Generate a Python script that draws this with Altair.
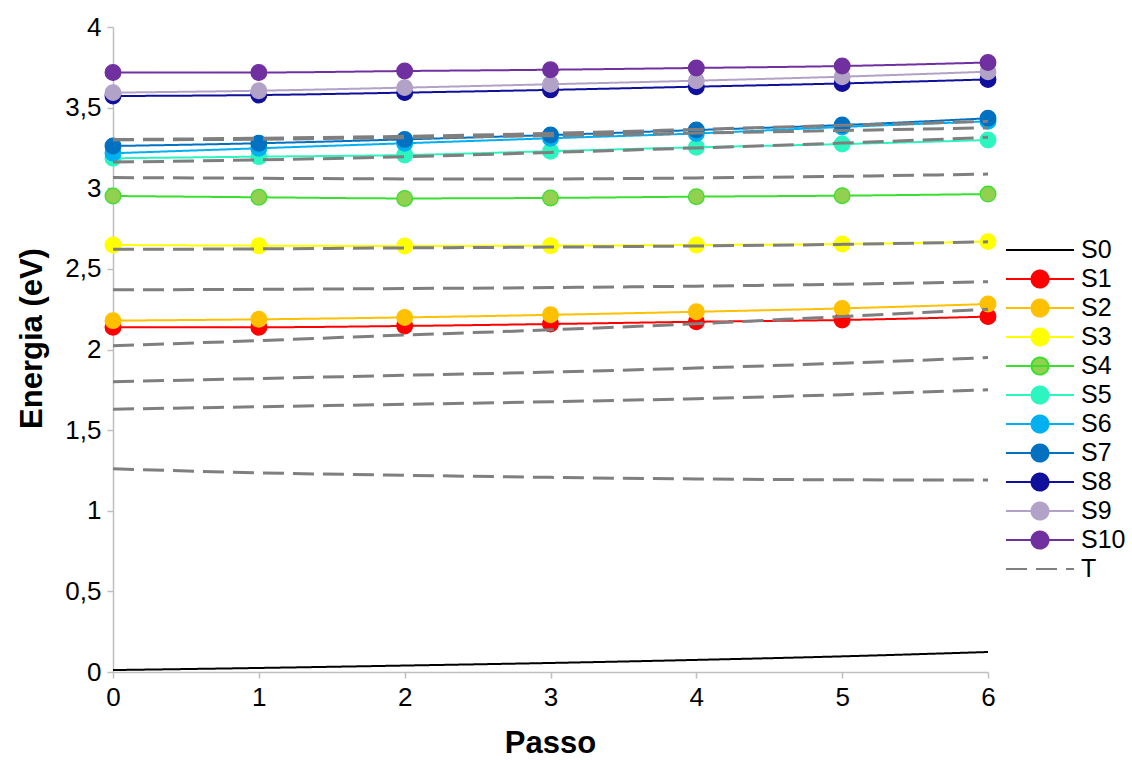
import altair as alt
import pandas as pd

# ---------------- data ----------------
steps = [0, 1, 2, 3, 4, 5, 6]
series_names = ["S0", "S1", "S2", "S3", "S4", "S5", "S6", "S7", "S8", "S9", "S10"]

S0 = [0.012, 0.025, 0.040, 0.056, 0.075, 0.097, 0.124]
S1 = [2.138, 2.138, 2.146, 2.158, 2.172, 2.183, 2.204]
S2 = [2.179, 2.187, 2.199, 2.215, 2.234, 2.255, 2.282]
S3 = [2.648, 2.644, 2.642, 2.644, 2.648, 2.654, 2.669]
S4 = [2.952, 2.944, 2.937, 2.940, 2.948, 2.954, 2.964]
S5 = [3.186, 3.196, 3.206, 3.230, 3.254, 3.274, 3.299]
S6 = [3.217, 3.248, 3.279, 3.310, 3.340, 3.380, 3.415]
S7 = [3.262, 3.279, 3.303, 3.330, 3.361, 3.392, 3.434]
S8 = [3.572, 3.578, 3.593, 3.610, 3.630, 3.650, 3.675]
S9 = [3.593, 3.605, 3.624, 3.645, 3.667, 3.692, 3.723]
S10 = [3.718, 3.718, 3.727, 3.735, 3.746, 3.758, 3.780]
singlets = [S0, S1, S2, S3, S4, S5, S6, S7, S8, S9, S10]

T1 = [1.260, 1.235, 1.220, 1.207, 1.197, 1.192, 1.190]
T2 = [1.630, 1.645, 1.660, 1.676, 1.695, 1.720, 1.750]
T3 = [1.800, 1.820, 1.840, 1.860, 1.885, 1.915, 1.950]
T4 = [2.024, 2.055, 2.090, 2.122, 2.160, 2.205, 2.250]
T5 = [2.370, 2.373, 2.378, 2.384, 2.393, 2.405, 2.420]
T6 = [2.621, 2.624, 2.630, 2.635, 2.642, 2.652, 2.668]
T7 = [3.066, 3.062, 3.058, 3.058, 3.064, 3.074, 3.088]
T8 = [3.162, 3.176, 3.195, 3.222, 3.250, 3.280, 3.316]
T9 = [3.300, 3.304, 3.314, 3.326, 3.342, 3.358, 3.375]
T10 = [3.302, 3.310, 3.322, 3.340, 3.365, 3.390, 3.415]
triplets = [T1, T2, T3, T4, T5, T6, T7, T8, T9, T10]

y_ticks = [0, 0.5, 1, 1.5, 2, 2.5, 3, 3.5, 4]

# ---------------- styles ----------------
legend_order = series_names + ["T"]
line_colors = ["#000000", "#FF0000", "#FFC000", "#FFFF00", "#3ADF2E", "#2DF5C0",
               "#00B0F0", "#0070C0", "#10109C", "#B3A2C7", "#7030A0", "#7F7F7F"]
marker_fills = ["transparent", "#FF0000", "#FFC000", "#FFFF00", "#92D050", "#2DF5C0",
                "#00B0F0", "#0070C0", "#10109C", "#B3A2C7", "#7030A0", "transparent"]
LINE = "M-1,0H1"
LINE_DOT = "M-1,0H1M0.25,0A0.25,0.25,0,1,1,-0.25,0A0.25,0.25,0,1,1,0.25,0Z"
shapes = [LINE] + [LINE_DOT] * 10 + [LINE]
dashes = [[1, 0]] * 11 + [[21, 9]]

# ---------------- tables ----------------
rows = []
for name, vals in zip(series_names, singlets):
    for x, v in zip(steps, vals):
        rows.append({"passo": x, "energia": v, "serie": name, "estado": name})
df_s = pd.DataFrame(rows)

rows = []
for i, vals in enumerate(triplets):
    for x, v in zip(steps, vals):
        rows.append({"passo": x, "energia": v, "serie": "T", "estado": f"T{i+1}"})
df_t = pd.DataFrame(rows)

df_pts = df_s[df_s["serie"] != "S0"].reset_index(drop=True)
df_leg = pd.DataFrame({"serie": legend_order})

# ---------------- scales / guides ----------------
stroke_scale = alt.Scale(domain=legend_order, range=line_colors)
fill_scale = alt.Scale(domain=legend_order, range=marker_fills)
shape_scale = alt.Scale(domain=legend_order, range=shapes)
dash_scale = alt.Scale(domain=legend_order, range=dashes)

FONT = "Liberation Sans"
leg = alt.Legend(title=None, orient="none", legendX=892, legendY=209,
                 clipHeight=28.1, rowPadding=0, padding=0,
                 labelFont=FONT, labelFontSize=25, labelColor="black", labelOffset=6,
                 symbolSize=4624, symbolStrokeWidth=2, symbolOpacity=1)

axis_common = dict(grid=False, domainColor="#BFBFBF", domainWidth=1.5,
                   tickColor="#BFBFBF", tickWidth=1.5, tickSize=6, labelPadding=6,
                   labelFont=FONT, labelFontSize=26, labelColor="black",
                   labelFlush=False, labelOverlap=False,
                   titleFont=FONT, titleFontSize=31, titleFontWeight="bold",
                   titleColor="black")

x_axis = alt.Axis(values=steps, format="d", titleX=437, titleY=71,
                  titleBaseline="middle", titleAlign="center", **axis_common)
y_axis = alt.Axis(values=y_ticks, labelExpr="replace(toString(datum.value), '.', ',')",
                  titleX=-81, titleY=311, titleAngle=270, titleAlign="center",
                  titleBaseline="middle", **axis_common)

X = alt.X("passo:Q", scale=alt.Scale(domain=[0, 6], nice=False), axis=x_axis, title="Passo")
Y = alt.Y("energia:Q", scale=alt.Scale(domain=[0, 4], nice=False), axis=y_axis, title="Energia (eV)")


def line_layer(df, width):
    return alt.Chart(df).mark_line(interpolate="monotone", strokeWidth=width).encode(
        x=X, y=Y,
        stroke=alt.Stroke("serie:N", scale=stroke_scale, legend=leg),
        strokeDash=alt.StrokeDash("serie:N", scale=dash_scale, legend=leg),
        detail="estado:N",
    )


s_lines = line_layer(df_s, 2)
t_lines = line_layer(df_t, 3)

points = alt.Chart(df_pts).mark_point(filled=True, size=245, strokeWidth=1.3, opacity=1).encode(
    x=X, y=Y,
    fill=alt.Fill("serie:N", scale=fill_scale, legend=leg),
    stroke=alt.Stroke("serie:N", scale=stroke_scale, legend=leg),
)

helper = alt.Chart(df_leg).mark_point(opacity=0, size=1).encode(
    shape=alt.Shape("serie:N", scale=shape_scale, legend=leg),
)

chart = alt.layer(s_lines, points, t_lines, helper).properties(
    width=875, height=645,
    autosize=alt.AutoSizeParams(type="none"),
    padding={"left": 113, "top": 27, "right": 144, "bottom": 88},
    background="white",
).configure_view(stroke=None)

chart.save("out.html", embed_options={"renderer": "svg", "actions": False})
